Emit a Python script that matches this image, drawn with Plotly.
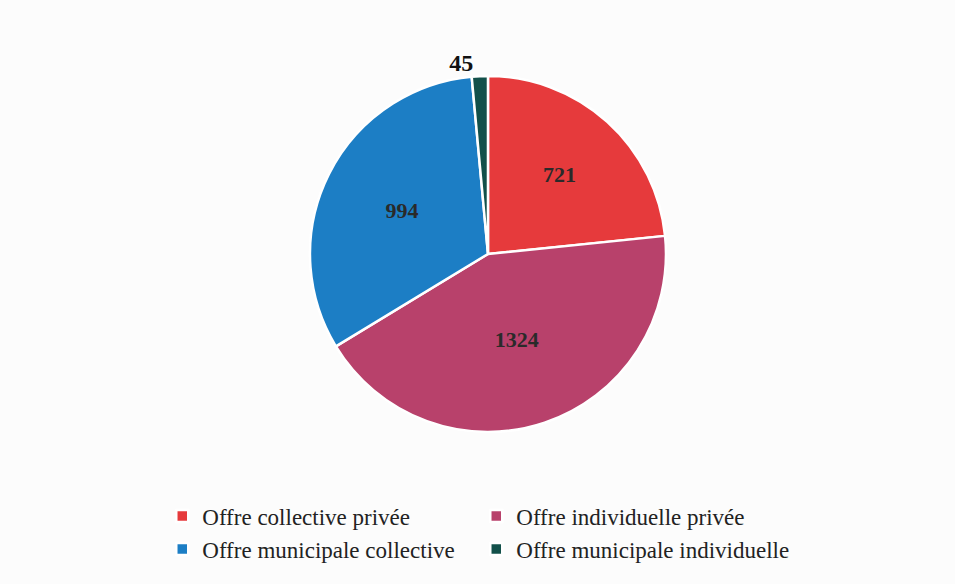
import plotly.graph_objects as go

labels = ["Offre collective privée", "Offre individuelle privée",
          "Offre municipale collective", "Offre municipale individuelle"]
values = [721, 1324, 994, 45]
colors = ["#E63A3C", "#B8416B", "#1C7EC5", "#12504A"]
text_positions = ["inside", "inside", "inside", "outside"]

fig = go.Figure(go.Pie(
    labels=labels,
    values=values,
    sort=False,
    direction="clockwise",
    rotation=0,
    marker=dict(colors=colors, line=dict(color="white", width=2.5)),
    textinfo="value",
    texttemplate="<b>%{value}</b>",
    textposition=text_positions,
    insidetextorientation="horizontal",
    insidetextfont=dict(family="Liberation Serif", size=22, color="#2a2a2a"),
    outsidetextfont=dict(family="Liberation Serif", size=24, color="#111111"),
    domain=dict(x=[0.1794, 0.7794], y=[0.2603, 0.8699]),
    hoverinfo="label+value",
))

fig.update_layout(
    width=955, height=584,
    margin=dict(l=150, r=100, t=0, b=0),
    paper_bgcolor="#fcfcfc",
    plot_bgcolor="#fcfcfc",
    showlegend=True,
    legend=dict(
        orientation="h",
        x=0.0174, xanchor="left",
        y=0.153, yanchor="top",
        entrywidth=269, entrywidthmode="pixels",
        font=dict(family="Liberation Serif", size=23, color="#222222"),
        itemwidth=30,
        bgcolor="rgba(0,0,0,0)",
    ),
)

fig.write_html("out.html")
